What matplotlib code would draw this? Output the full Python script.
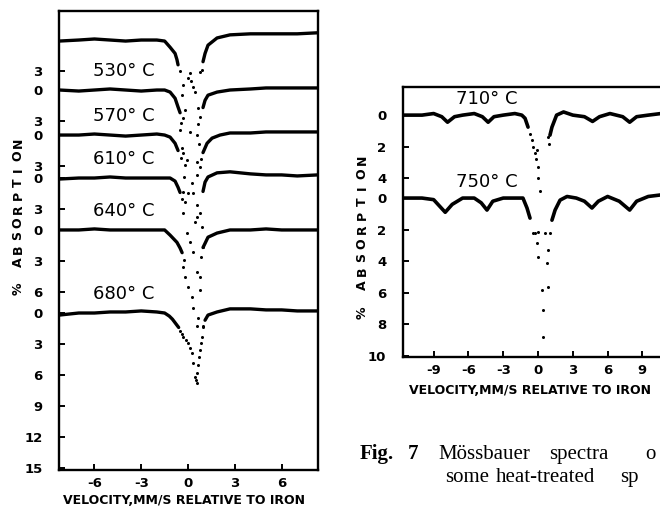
import matplotlib
matplotlib.use("Agg")
import matplotlib.pyplot as plt
from matplotlib import font_manager

W, H = 660, 516
nan = float("nan")
plt.rcParams["axes.unicode_minus"] = False

# ---------------- left panel: 530-680 C anneals, stacked ----------------
left_labels = ["", "530° C", "570° C", "610° C", "640° C", "680° C"]
# baseline of every trace, in % absorption below the top trace
left_offsets = [0.0, 4.84, 9.2, 13.36, 18.39, 26.43]
left_ticks = [[3], [0, 3], [0, 3], [0, 3], [0, 3, 6], [0, 3, 6, 9, 12, 15]]
left_xticks = [-6, -3, 0, 3, 6]

# dense part of each trace (velocity mm/s, absorption %); nan splits the two wings
top_v = [-8.25, -7, -6, -5, -4, -3, -2, -1.5, -1.15, -0.83, -0.71, -0.64, nan,
         0.96, 1.09, 1.28, 1.86, 2.69, 4, 5, 6, 7, 8.3]
top_a = [0.1, 0.0, -0.1, 0.0, 0.1, 0.0, 0.0, 0.1, 0.7, 1.3, 1.9, 2.4, nan,
         2.1, 1.3, 0.5, -0.2, -0.5, -0.6, -0.6, -0.6, -0.6, -0.7]
top_dv = [0.13, 0.0, 0.77, -0.32, 0.32, 0.45, -0.38, 0.64, -0.19, -0.5, 0.9, 0.2]
top_da = [3.2, 3.7, 3.1, 4.4, 4.5, 5.0, 5.3, 6.6, 6.8, 3.0, 2.9, 4.0]

t530_v = [-8.25, -7, -6, -5, -4, -3, -2, -1.5, -1.15, -0.83, -0.64, -0.51, nan,
          0.96, 1.09, 1.28, 1.86, 2.69, 4, 5, 6, 7, 8.3]
t530_a = [0.0, 0.1, 0.0, -0.1, 0.0, 0.1, 0.0, 0.0, 0.2, 0.8, 1.65, 2.2, nan,
          1.7, 1.0, 0.5, 0.2, 0.0, -0.1, -0.2, -0.2, -0.2, -0.2]
t530_dv = [0.77, -0.32, -0.51, 0.13, 0.58, -0.38, -0.32, 0.58, -0.06, 0.64, 0.7, -0.45]
t530_da = [2.6, 2.7, 3.9, 4.1, 4.4, 5.6, 6.1, 7.0, 6.8, 3.3, 5.2, 3.2]

t570_v = [-8.25, -7, -6, -5, -4, -3, -2, -1.5, -1.15, -0.83, -0.64, nan,
          0.96, 1.22, 1.54, 2.05, 2.69, 4, 5, 6, 7, 8.3]
t570_a = [0.0, 0.0, -0.1, 0.0, 0.1, 0.0, -0.1, 0.0, 0.2, 0.8, 1.5, nan,
          1.7, 0.8, 0.3, 0.0, -0.2, -0.2, -0.3, -0.3, -0.3, -0.3]
t570_dv = [-0.19, 0.77, 0.58, 0.26, -0.32, 0.0, 0.32, -0.45, 0.85, -0.25]
t570_da = [2.9, 3.1, 3.9, 4.6, 5.5, 5.6, 5.6, 2.2, 2.3, 4.1]

t610_v = [-8.25, -7, -6, -5, -4, -3, -2, -1.5, -1.15, -0.83, -0.64, -0.51, nan,
          0.96, 1.09, 1.28, 1.86, 2.69, 4, 5, 6, 7, 8.3]
t610_a = [0.1, 0.0, 0.0, -0.1, 0.0, 0.0, 0.0, 0.0, 0.0, 0.3, 0.9, 1.4, nan,
          1.3, 0.4, -0.1, -0.5, -0.6, -0.4, -0.3, -0.3, -0.2, -0.3]
t610_dv = [-0.19, 0.58, 0.58, 0.77, -0.32, 0.9, -0.06, 0.13, 0.32, 0.96, -0.4, 0.45]
t610_da = [2.3, 2.6, 3.8, 3.4, 3.4, 4.7, 5.3, 6.2, 7.2, 6.7, 2.0, 4.3]

t640_v = [-8.25, -7, -6, -5, -4, -3, -2, -1.5, -1.15, -0.71, -0.51, -0.38, nan,
          0.96, 1.09, 1.28, 1.86, 2.69, 4, 5, 6, 7, 8.3]
t640_a = [0.0, 0.0, -0.1, 0.0, 0.0, 0.0, 0.0, 0.0, 0.5, 1.2, 1.75, 2.2, nan,
          1.7, 1.3, 0.7, 0.3, 0.0, 0.0, -0.1, 0.0, 0.0, 0.0]
t640_dv = [-0.32, 0.58, -0.19, 0.77, 0.0, 0.77, 0.26, 0.32, 0.64, 0.58, 0.96, 0.85, -0.25]
t640_da = [3.6, 4.1, 4.6, 4.6, 5.5, 5.8, 6.5, 7.6, 8.5, 9.3, 9.3, 2.6, 2.9]

t680_v = [-8.25, -7, -6, -5, -4, -3, -2, -1.5, -1.2, -1.0, -0.8, -0.6, nan,
          1.09, 1.28, 1.86, 2.69, 4, 5, 6, 7, 8.3]
t680_a = [0.2, 0.0, 0.0, -0.1, -0.1, -0.2, -0.1, 0.0, 0.3, 0.6, 1.0, 1.4, nan,
          0.7, 0.2, -0.1, -0.4, -0.4, -0.3, -0.3, -0.2, -0.2]
t680_dv = [-0.5, -0.4, -0.32, -0.15, 0.0, 0.15, 0.26, 0.32, 0.45, 0.5, 0.58, 0.6,
           0.65, 0.7, 0.77, 0.85, 0.9, 0.96]
t680_da = [1.7, 2.0, 2.3, 2.6, 2.9, 3.4, 3.9, 4.8, 6.2, 6.5, 5.8, 6.8,
           5.0, 4.3, 3.6, 2.9, 2.3, 1.4]

left_v = [top_v, t530_v, t570_v, t610_v, t640_v, t680_v]
left_a = [top_a, t530_a, t570_a, t610_a, t640_a, t680_a]
left_dv = [top_dv, t530_dv, t570_dv, t610_dv, t640_dv, t680_dv]
left_da = [top_da, t530_da, t570_da, t610_da, t640_da, t680_da]

# ---------------- right panel: 710 and 750 C ----------------
right_labels = ["710° C", "750° C"]
right_offsets = [-5.25, 0.0]
right_ticks = [[0, 2, 4], [0, 2, 4, 6, 8, 10]]
right_xticks = [-9, -6, -3, 0, 3, 6, 9]

t710_v = [-11.6, -10, -9, -8.3, -7.8, -7.2, -6.5, -5.5, -4.8, -4.3, -3.8, -3, -2,
          -1.4, -1.12, -0.86, nan,
          1.03, 1.2, 1.6, 2.2, 3.0, 4.0, 4.7, 5.3, 6.2, 7.3, 7.9, 8.5, 9.5, 10.6]
t710_a = [0.0, 0.0, -0.1, 0.1, 0.45, 0.1, 0.0, -0.1, 0.1, 0.45, 0.1, 0.0, -0.1,
          0.0, 0.2, 0.76, nan,
          1.27, 0.76, 0.0, -0.2, 0.0, 0.1, 0.4, 0.1, -0.1, 0.1, 0.45, 0.1, 0.0, -0.1]
t710_dv = [-0.7, -0.52, -0.4, -0.26, -0.15, 0.0, -0.09, 0.0, 0.17, 0.95, 0.9]
t710_da = [1.2, 1.6, 2.0, 2.4, 2.8, 3.3, 2.2, 4.0, 4.8, 1.8, 1.4]

t750_v = [-11.6, -10, -9, -8.5, -8.0, -7.4, -6.5, -5.5, -4.9, -4.4, -3.9, -3, -2,
          -1.3, -0.95, -0.69, nan,
          1.2, 1.47, 1.9, 2.5, 3.3, 4.0, 4.65, 5.2, 6.0, 7.0, 7.9, 8.5, 9.5, 10.6]
t750_a = [0.0, 0.0, 0.1, 0.5, 0.9, 0.4, 0.0, 0.0, 0.3, 0.76, 0.2, 0.0, 0.0,
          0.0, 0.63, 1.27, nan,
          1.4, 0.76, 0.13, -0.1, 0.0, 0.2, 0.63, 0.2, -0.1, 0.2, 0.76, 0.2, -0.1, -0.2]
t750_dv = [-0.43, 0.0, 0.6, 1.03, -0.26, -0.09, 0.0, 0.78, 0.86, 0.34, 0.86, 0.43, 0.43]
t750_da = [2.2, 2.15, 2.2, 2.2, 2.2, 2.85, 3.7, 4.1, 3.3, 5.8, 5.6, 7.1, 8.8]

right_v = [t710_v, t750_v]
right_a = [t710_a, t750_a]
right_dv = [t710_dv, t750_dv]
right_da = [t710_da, t750_da]

# caption words and where each one starts (px)
caption_1 = [("Fig.", 360, "bold"), ("7", 408, "bold"), ("Mössbauer", 438, "normal"),
             ("spectra", 549, "normal"), ("o", 645, "normal")]
caption_2 = [("some", 445, "normal"), ("heat-treated", 496, "normal"), ("sp", 620, "normal")]

# ---------------- fonts ----------------
installed = {f.name for f in font_manager.fontManager.ttflist}
if "Liberation Sans Narrow" in installed:
    narrow, tick_fs, lab_fs = "Liberation Sans Narrow", 10.5, 11
else:
    narrow, tick_fs, lab_fs = "DejaVu Sans", 9.5, 9


def fx(px):
    return px / W


def fy(py):
    return 1 - py / H


def stacked(ax, offsets, vs, as_, dvs, das, ticks, lw):
    for off, v, a, dv, da in zip(offsets, vs, as_, dvs, das):
        ax.plot(v, [off + x for x in a], color="k", lw=lw, solid_capstyle="round")
        ax.plot(dv, [off + x for x in da], "o", color="k", ms=2.2, mew=0)
    yt, yl = [], []
    for off, tk in zip(offsets, ticks):
        for t in tk:
            yt.append(off + t)
            yl.append(str(t))
    ax.set_yticks(yt)
    ax.set_yticklabels(yl)


def style(ax):
    for s in ax.spines.values():
        s.set_linewidth(1.7)
    ax.tick_params(direction="in", length=4, width=1.4)
    ax.tick_params(axis="y", pad=12)
    ax.tick_params(axis="x", pad=5)
    for lab in ax.get_xticklabels() + ax.get_yticklabels():
        lab.set_family(narrow)
        lab.set_fontweight("bold")
        lab.set_fontsize(tick_fs)


def spaced_vertical(text, x_px, y0_px, step):
    # letters of the y title sit well apart, so place them one by one
    for i, ch in enumerate(text):
        fig.text(fx(x_px), fy(y0_px - i * step), ch, rotation=90, ha="center",
                 va="center", family="DejaVu Sans", fontweight="bold", fontsize=9)


fig = plt.figure(figsize=(6.6, 5.16), dpi=100)

axL = fig.add_axes([fx(59), fy(470), (318 - 59) / W, (470 - 11) / H])
stacked(axL, left_offsets, left_v, left_a, left_dv, left_da, left_ticks, 2.4)
axL.set_xlim(-8.27, 8.33)
axL.set_ylim(41.63, -2.81)
axL.set_xticks(left_xticks)
style(axL)
for off, lab in zip(left_offsets, left_labels):
    if lab:
        axL.text(-6.1, off - 1.8, lab, ha="left", va="center", fontsize=13,
                 family="DejaVu Sans")

axR = fig.add_axes([fx(403), fy(357), 274 / W, (357 - 87) / H])
stacked(axR, right_offsets, right_v, right_a, right_dv, right_da, right_ticks, 2.6)
axR.set_xlim(-11.64, 11.98)
axR.set_ylim(10.06, -7.03)
axR.set_xticks(right_xticks)
style(axR)
for off, lab in zip(right_offsets, right_labels):
    axR.text(-7.1, off - 1.0, lab, ha="left", va="center", fontsize=13,
             family="DejaVu Sans")

fig.text(fx(184), fy(500), "VELOCITY,MM/S RELATIVE TO IRON", ha="center", va="center",
         family=narrow, fontweight="bold", fontsize=lab_fs)
fig.text(fx(530), fy(391), "VELOCITY,MM/S RELATIVE TO IRON", ha="center", va="center",
         family=narrow, fontweight="bold", fontsize=lab_fs)
spaced_vertical("% ABSORPTION", 18, 289, 13.3)
spaced_vertical("% ABSORPTION", 362, 313, 13.9)

for word, x, wt in caption_1:
    fig.text(fx(x), fy(459), word, ha="left", va="baseline", family="Liberation Serif",
             fontweight=wt, fontsize=15)
for word, x, wt in caption_2:
    fig.text(fx(x), fy(482), word, ha="left", va="baseline", family="Liberation Serif",
             fontweight=wt, fontsize=15)

fig.savefig("out.png", dpi=100, facecolor="white")
